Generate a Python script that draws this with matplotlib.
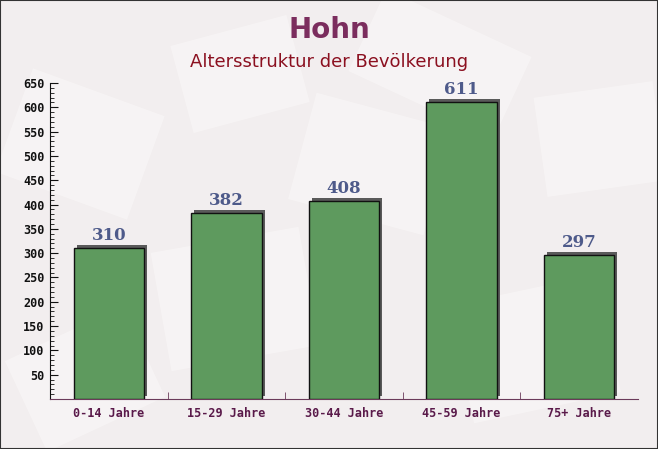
import numpy as np
import matplotlib.pyplot as plt
import matplotlib.transforms as mtransforms
from matplotlib.patches import Rectangle

# Daten
kategorien = ['0-14 Jahre', '15-29 Jahre', '30-44 Jahre', '45-59 Jahre', '75+ Jahre']
werte = [310, 382, 408, 611, 297]
y_ticks = [50, 100, 150, 200, 250, 300, 350, 400, 450, 500, 550, 600, 650]

fig = plt.figure(figsize=(6.58, 4.49), dpi=100)
fig.patch.set_facecolor('#f2eeef')

# leichte Hintergrundflaechen (Briefumschlag-Muster angedeutet), in Pixeln
hintergrund = [(10, 250, 140, 110, -20), (160, 90, 150, 120, 10),
               (300, 230, 140, 110, -15), (460, 40, 150, 120, 12),
               (540, 260, 120, 100, 8), (20, 20, 130, 100, 25),
               (360, 340, 160, 90, -25), (180, 330, 120, 90, 15)]
for (hx, hy, hw, hh, winkel) in hintergrund:
    t = mtransforms.Affine2D().rotate_deg_around(hx + hw / 2, hy + hh / 2, winkel)
    r = Rectangle((hx, hy), hw, hh, facecolor='#faf8f8', edgecolor='none',
                  alpha=0.6, zorder=-1, transform=t)
    fig.patches.append(r)

ax = fig.add_axes([50 / 658, 50 / 449, 588 / 658, 316 / 449])
ax.set_facecolor('none')

x = np.arange(len(kategorien))

# Schatten
schatten = mtransforms.offset_copy(ax.transData, fig=fig, x=3, y=3, units='dots')
ax.bar(x, werte, width=0.6, color='#5a5a5a', transform=schatten, zorder=2)
ax.bar(x, werte, width=0.6, color='#5e9a5e', edgecolor='#111111', linewidth=1, zorder=3)

for xi, w in zip(x, werte):
    ax.text(xi, w + 8, str(w), ha='center', va='bottom', fontsize=12, fontweight='bold',
            family='DejaVu Serif', color='#4e5a8a', zorder=4)

ax.set_xlim(-0.5, len(kategorien) - 0.5)
ax.set_ylim(0, 650)

ax.set_yticks(y_ticks)
ax.set_yticks(np.arange(0, 651, 10), minor=True)
ax.set_xticks(x)
ax.set_xticks(np.arange(0.5, len(kategorien) - 0.5, 1), minor=True)
ax.set_xticklabels(kategorien)

for s in ['top', 'right']:
    ax.spines[s].set_visible(False)
ax.spines['left'].set_color('#111111')
ax.spines['bottom'].set_color('#6b3a5a')

ax.tick_params(axis='y', which='major', direction='in', length=6, color='#111111',
               labelsize=8.5, labelcolor='#111111', pad=4)
ax.tick_params(axis='y', which='minor', direction='in', length=3, color='#111111')
ax.tick_params(axis='x', which='major', length=0, labelsize=8.5, labelcolor='#5a1a4a', pad=6)
ax.tick_params(axis='x', which='minor', direction='in', length=5, color='#6b3a5a')
for lab in ax.get_xticklabels() + ax.get_yticklabels():
    lab.set_family('DejaVu Sans Mono')
    lab.set_fontweight('bold')

fig.text(0.5, 1 - 30 / 449, 'Hohn', ha='center', va='center', fontsize=20,
         fontweight='bold', color='#7b2d5e')
fig.text(0.5, 1 - 62 / 449, 'Altersstruktur der Bevölkerung', ha='center', va='center',
         fontsize=13, color='#8b1020')

fig.patches.append(Rectangle((0, 0), 1, 1, transform=fig.transFigure, fill=False,
                             edgecolor='#333333', linewidth=1.5, zorder=10))

fig.savefig('out.png', dpi=100, facecolor=fig.get_facecolor())
